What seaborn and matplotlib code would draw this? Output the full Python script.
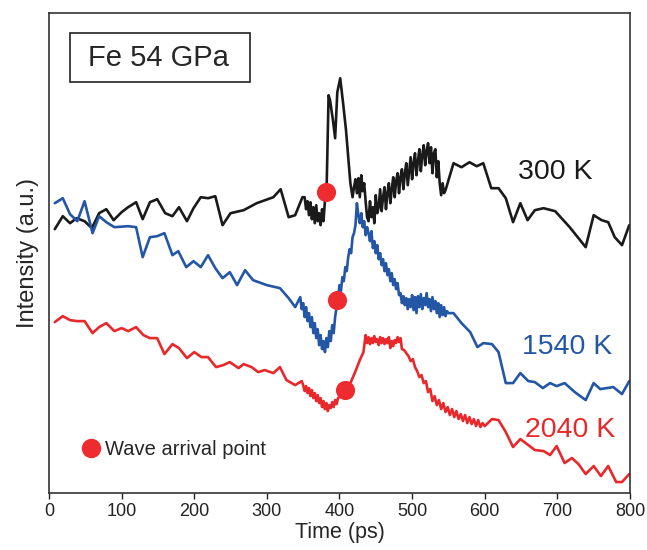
"""Recreate the Fe 54 GPa time-resolved intensity traces."""
import matplotlib

matplotlib.use("Agg")

import matplotlib.pyplot as plt  # noqa: E402
import pandas as pd  # noqa: E402
import seaborn as sns  # noqa: E402
from matplotlib.lines import Line2D  # noqa: E402
from matplotlib.patches import Rectangle  # noqa: E402

# ---- data (arbitrary intensity units) ----
# 300 K trace, in segments (time in ps, intensity in a.u.)
t_300_a = [8, 19, 29, 38, 49, 59, 69, 79, 89, 100, 109, 120, 129, 139, 149, 160, 170, 179, 190,
           199, 209, 219, 229, 239, 250, 262, 268, 286, 309, 319, 330, 339, 349]
i_300_a = [2.64, 2.77, 2.70, 2.75, 2.72, 2.65, 2.80, 2.84, 2.73, 2.81, 2.86, 2.91, 2.74, 2.91,
           2.94, 2.80, 2.77, 2.86, 2.72, 2.85, 2.96, 2.95, 2.97, 2.68, 2.80, 2.82, 2.83, 2.90,
           2.96, 3.04, 2.76, 2.78, 2.96]
t_300_b = list(range(352, 380, 2))
i_300_b = [2.96, 2.84, 2.92, 2.78, 2.91, 2.74, 2.86, 2.70, 2.88, 2.72, 2.80, 2.68, 2.84, 2.72]
t_300_c = [380, 382, 385, 387, 391, 394, 397, 401, 405, 409, 412, 415]
i_300_c = [2.93, 2.95, 3.98, 3.93, 3.73, 3.55, 4.01, 4.15, 3.90, 3.63, 3.36, 3.10]
t_300_d = list(range(418, 548, 2))
i_300_d = [2.96, 3.06, 3.14, 3.00, 3.15, 2.96, 3.18, 3.02, 3.10, 2.92,
           2.76, 2.72, 2.92, 2.76, 2.86, 2.70, 2.98, 2.80, 2.86, 3.04,
           2.82, 2.96, 3.06, 2.84, 3.00, 3.10, 2.90, 3.04, 3.16, 2.96,
           3.12, 3.20, 3.00, 3.16, 3.24, 3.04, 3.20, 3.30, 3.08, 3.22,
           3.36, 3.14, 3.30, 3.40, 3.18, 3.32, 3.44, 3.22, 3.38, 3.48,
           3.28, 3.42, 3.50, 3.30, 3.46, 3.20, 3.40, 3.44, 3.16, 3.32,
           3.10, 2.98, 3.10, 3.00, 3.03]
t_300_e = [557, 568, 579, 589, 598, 609, 619, 629, 639, 649, 659, 669, 681, 697, 717, 739, 750,
           761, 770, 779, 789, 799]
i_300_e = [3.30, 3.26, 3.31, 3.27, 3.30, 3.05, 3.05, 2.95, 2.71, 2.90, 2.73, 2.83, 2.85, 2.82,
           2.66, 2.46, 2.78, 2.73, 2.71, 2.56, 2.48, 2.68]

# 1540 K trace
t_1540_a = [8, 19, 29, 39, 49, 60, 69, 79, 90, 109, 120, 129, 139, 149, 159, 170, 178, 189, 199,
            209, 219, 229, 239, 249, 259, 270, 281, 300, 318, 330, 339]
i_1540_a = [2.90, 2.95, 2.79, 2.72, 2.92, 2.60, 2.77, 2.71, 2.66, 2.67, 2.66, 2.36, 2.56, 2.57,
            2.60, 2.38, 2.42, 2.26, 2.32, 2.26, 2.38, 2.25, 2.15, 2.21, 2.08, 2.23, 2.13, 2.08,
            2.05, 1.95, 1.86]
t_1540_b = list(range(346, 398, 2))
i_1540_b = [1.96, 1.84, 1.90, 1.76, 1.86, 1.72, 1.80, 1.66, 1.76, 1.60,
            1.70, 1.55, 1.64, 1.48, 1.58, 1.44, 1.52, 1.41, 1.55, 1.46,
            1.62, 1.52, 1.68, 1.60, 1.76, 1.86]
t_1540_c = list(range(398, 426, 2))
i_1540_c = [1.95, 2.08, 2.02, 2.16, 2.12, 2.26, 2.22, 2.36, 2.44, 2.40, 2.56, 2.60, 2.68, 2.90]
t_1540_d = list(range(426, 484, 2))
i_1540_d = [2.78, 2.70, 2.80, 2.66, 2.72, 2.58, 2.66, 2.60, 2.52, 2.62,
            2.45, 2.52, 2.40, 2.48, 2.34, 2.40, 2.28, 2.34, 2.22, 2.30,
            2.18, 2.24, 2.12, 2.20, 2.08, 2.14, 2.04, 2.10, 1.98]
t_1540_e = list(range(484, 552, 2))
i_1540_e = [2.00, 1.90, 1.97, 1.88, 1.95, 1.84, 1.94, 1.86, 1.98, 1.83,
            1.96, 1.80, 1.97, 1.86, 1.99, 1.84, 1.95, 1.88, 2.00, 1.86,
            1.94, 1.82, 1.96, 1.84, 1.92, 1.80, 1.90, 1.76, 1.88, 1.78,
            1.86, 1.77, 1.82, 1.80]
t_1540_f = [557, 568, 580, 590, 598, 610, 619, 629, 639, 649, 660, 669, 680, 690, 699, 710, 724,
            739, 750, 759, 777, 789, 799]
i_1540_f = [1.80, 1.70, 1.61, 1.46, 1.50, 1.49, 1.41, 1.10, 1.10, 1.20, 1.12, 1.11, 1.05, 1.10,
            1.07, 1.10, 1.01, 0.93, 1.10, 1.04, 1.06, 0.99, 1.12]

# 2040 K trace
t_2040_a = [8, 19, 29, 39, 49, 60, 69, 79, 90, 100, 109, 120, 130, 139, 149, 159, 170, 179, 190,
            200, 210, 219, 230, 240, 249, 261, 268, 279, 288, 297, 309, 318, 327, 339, 348]
i_2040_a = [1.71, 1.77, 1.73, 1.72, 1.72, 1.60, 1.66, 1.70, 1.62, 1.65, 1.62, 1.66, 1.58, 1.55,
            1.55, 1.39, 1.49, 1.45, 1.35, 1.41, 1.36, 1.36, 1.26, 1.28, 1.31, 1.25, 1.29, 1.26,
            1.21, 1.23, 1.20, 1.26, 1.13, 1.08, 1.12]
t_2040_b = list(range(350, 400, 2))
i_2040_b = [1.08, 1.02, 1.07, 1.00, 1.05, 0.97, 1.03, 0.95, 1.00, 0.92,
            0.98, 0.90, 0.95, 0.86, 0.92, 0.84, 0.90, 0.82, 0.88, 0.85,
            0.91, 0.86, 0.93, 0.89, 0.95]
t_2040_c = [403, 410, 415, 421, 428, 433, 436]
i_2040_c = [0.98, 1.03, 1.10, 1.20, 1.33, 1.41, 1.58]
t_2040_d = list(range(438, 488, 2))
i_2040_d = [1.50, 1.56, 1.49, 1.55, 1.50, 1.57, 1.51, 1.54, 1.48, 1.56,
            1.50, 1.55, 1.49, 1.54, 1.50, 1.56, 1.45, 1.52, 1.47, 1.53,
            1.50, 1.56, 1.51, 1.55, 1.44]
t_2040_e = list(range(489, 601, 3))
i_2040_e = [1.43, 1.40, 1.37, 1.32, 1.34, 1.26, 1.22, 1.16, 1.18, 1.10,
            1.12, 1.01, 1.04, 0.92, 0.97, 0.88, 0.93, 0.84, 0.90, 0.81,
            0.86, 0.78, 0.84, 0.76, 0.82, 0.74, 0.79, 0.72, 0.78, 0.70,
            0.76, 0.69, 0.74, 0.67, 0.73, 0.66, 0.70, 0.67]
t_2040_f = [610, 619, 629, 639, 649, 660, 669, 681, 690, 699, 710, 720, 729, 739, 750, 760, 770,
            781, 789, 799]
i_2040_f = [0.74, 0.73, 0.61, 0.46, 0.54, 0.48, 0.43, 0.42, 0.38, 0.47, 0.30, 0.35, 0.29, 0.19,
            0.27, 0.17, 0.27, 0.11, 0.11, 0.19]

# wave arrival points (time, intensity) for 300 K, 1540 K, 2040 K
arrival_t = [381, 396, 408]
arrival_i = [3.01, 1.93, 1.03]

labels = ["300 K", "1540 K", "2040 K"]
colors = ["#1a1a1a", "#2456a6", "#e8282b"]
label_pos = [(697, 3.21), (714, 1.46), (717, 0.63)]
x_ticks = [0, 100, 200, 300, 400, 500, 600, 700, 800]

t_300 = t_300_a + t_300_b + t_300_c + t_300_d + t_300_e
i_300 = i_300_a + i_300_b + i_300_c + i_300_d + i_300_e
t_1540 = t_1540_a + t_1540_b + t_1540_c + t_1540_d + t_1540_e + t_1540_f
i_1540 = i_1540_a + i_1540_b + i_1540_c + i_1540_d + i_1540_e + i_1540_f
t_2040 = t_2040_a + t_2040_b + t_2040_c + t_2040_d + t_2040_e + t_2040_f
i_2040 = i_2040_a + i_2040_b + i_2040_c + i_2040_d + i_2040_e + i_2040_f

sns.set_style("ticks")
plt.rcParams["font.family"] = ["Liberation Sans", "DejaVu Sans"]

fig = plt.figure(figsize=(6.47, 5.5), dpi=100)
ax = fig.add_axes([0.0757, 0.1036, 0.898, 0.8722])

frames = []
for name, t, y in [("300 K", t_300, i_300), ("1540 K", t_1540, i_1540), ("2040 K", t_2040, i_2040)]:
    frames.append(pd.DataFrame({"t": t, "y": y, "trace": name}))
df = pd.concat(frames, ignore_index=True)

sns.lineplot(data=df, x="t", y="y", hue="trace", palette=dict(zip(labels, colors)),
             units="trace", estimator=None, sort=False, linewidth=1.9, legend=False, ax=ax)

ax.scatter(arrival_t, arrival_i, s=190, color="#ee2b2e", zorder=5, linewidths=0)

for lab, (tx, ty), col in zip(labels, label_pos, colors):
    ax.text(tx, ty, lab, color=col, fontsize=20.5, ha="center", va="center")

# sample label box
ax.add_patch(Rectangle((0.036, 0.857), 0.31, 0.102, transform=ax.transAxes,
                       fill=False, edgecolor="#222222", linewidth=1.2))
ax.text(0.189, 0.906, "Fe 54 GPa", transform=ax.transAxes, fontsize=21,
        ha="center", va="center")

handle = Line2D([], [], linestyle="none", marker="o", markersize=14,
                markerfacecolor="#ee2b2e", markeredgewidth=0)
ax.legend([handle], ["Wave arrival point"], loc="center left",
          bbox_to_anchor=(0.057, 0.091), frameon=False, fontsize=14.5,
          handlelength=0.85, handletextpad=0.3, borderpad=0, borderaxespad=0)

ax.set_xlim(0, 800)
ax.set_ylim(0, 4.80)
ax.set_xticks(x_ticks)
ax.set_yticks([])
ax.tick_params(axis="x", labelsize=13, length=4, width=1, colors="#222222")
ax.set_xlabel("Time (ps)", fontsize=15.5, labelpad=1)
ax.set_ylabel("Intensity (a.u.)", fontsize=17, labelpad=7)
for sp in ax.spines.values():
    sp.set_visible(True)
    sp.set_linewidth(1.2)
    sp.set_color("#333333")

fig.savefig("out.png", dpi=100)
plt.close(fig)
